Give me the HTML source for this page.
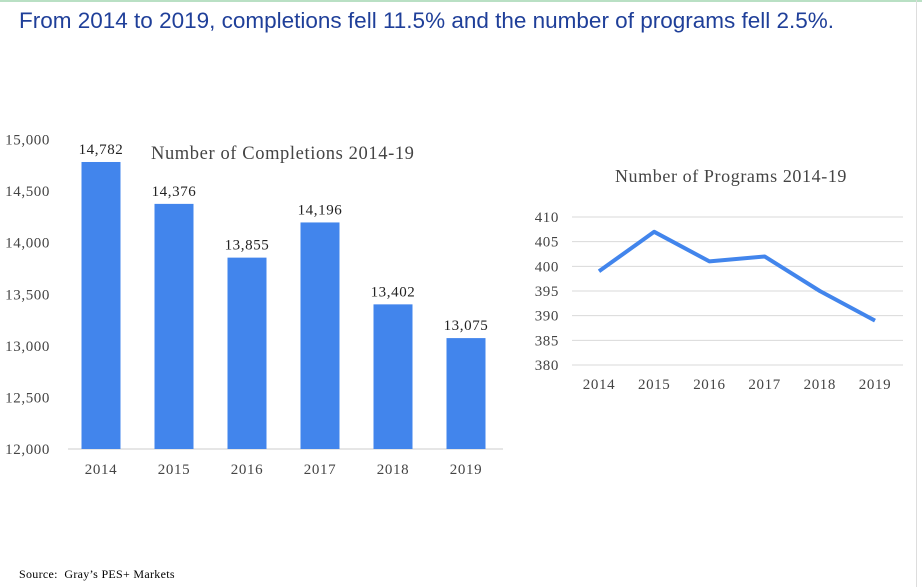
<!DOCTYPE html>
<html><head><meta charset="utf-8"><style>
body{margin:0;width:922px;height:587px;background:#fff;overflow:hidden;position:relative;font-family:"Liberation Serif",serif}
#title{position:absolute;left:19px;top:8px;font-family:"Liberation Sans",sans-serif;font-size:22.5px;color:#1f3f99;white-space:nowrap}
#src{position:absolute;left:19px;top:567px;font-size:12px;color:#000;letter-spacing:0.3px}
svg text{letter-spacing:0.6px}
</style></head><body>
<div style="position:absolute;left:0;top:0;width:922px;height:2px;background:#b9e0c4"></div>
<div style="position:absolute;left:916px;top:0;width:1px;height:587px;background:#ddd"></div>
<div id="title">From 2014 to 2019, completions fell 11.5% and the number of programs fell 2.5%.</div>
<svg id="c" width="922" height="587" style="position:absolute;left:0;top:0"></svg>
<div id="src">Source:&nbsp; Gray’s PES+ Markets</div>
<script>
const years=["2014","2015","2016","2017","2018","2019"];
const completions=[14782,14376,13855,14196,13402,13075];
const compTicks=[12000,12500,13000,13500,14000,14500,15000];
const programs=[399,407,401,402,395,389];
const progTicks=[380,385,390,395,400,405,410];
const NS="http://www.w3.org/2000/svg";
const svg=document.getElementById('c');
function mk(t,a,txt){const e=document.createElementNS(NS,t);for(const k in a)e.setAttribute(k,a[k]);if(txt!==undefined)e.textContent=txt;svg.appendChild(e);return e;}
const fmt=v=>v.toLocaleString('en-US');
const yL=v=>449-(v-12000)*(449-139.5)/3000;
const xL=i=>101+i*73;
compTicks.forEach(t=>{const e=mk('text',{x:50,y:yL(t)+5,'text-anchor':'end','font-size':15,fill:'#444'},fmt(t));
});
let ax=mk('line',{x1:68,x2:503,y1:449,y2:449,stroke:'#ccc'});

completions.forEach((v,i)=>{
const r=mk('rect',{x:xL(i)-19.5,y:yL(v),width:39,height:449-yL(v),fill:'#4285ec'});

const l=mk('text',{x:xL(i),y:yL(v)-8,'text-anchor':'middle','font-size':15,fill:'#222'},fmt(v));

const x=mk('text',{x:xL(i),y:474,'text-anchor':'middle','font-size':15,fill:'#444'},years[i]);

});
let t1=mk('text',{x:151,y:159,'font-size':18.5,fill:'#444'},'Number of Completions 2014-19');

const yR=v=>365-(v-380)*(365-217)/30;
const xR=i=>599+i*55.2;
progTicks.forEach(t=>{const g=mk('line',{x1:572,x2:903,y1:yR(t),y2:yR(t),stroke:'#d9d9d9'});

const e=mk('text',{x:559,y:yR(t)+5,'text-anchor':'end','font-size':15,fill:'#444'},t);
});
years.forEach((y,i)=>{const e=mk('text',{x:xR(i),y:389,'text-anchor':'middle','font-size':15,fill:'#444'},y);
});
const pl=mk('polyline',{points:programs.map((v,i)=>xR(i)+','+yR(v)).join(' '),fill:'none',stroke:'#4285ec','stroke-width':4,'stroke-linejoin':'round'});

let t2=mk('text',{x:731,y:182,'text-anchor':'middle','font-size':18,fill:'#444'},'Number of Programs 2014-19');

</script>
</body></html>
